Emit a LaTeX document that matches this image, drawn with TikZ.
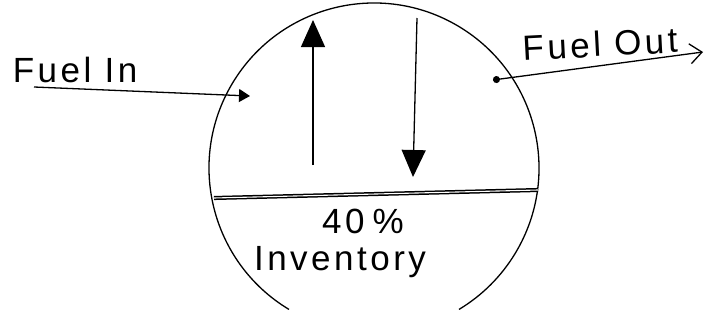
\documentclass[tikz,border=0pt]{standalone}
\usepackage{fontspec}
\setmainfont{Liberation Sans}
\newfontfamily\handfont[LetterSpace=10]{Liberation Sans}
\usetikzlibrary{arrows.meta,positioning}

\begin{document}
\begin{tikzpicture}[x=1pt,y=-1pt,
    pen/.style={line width=1.3pt,black},
    hand/.style={inner sep=0pt,font=\handfont\fontsize{35}{35}\selectfont},
    bighead/.style={-{Triangle[length=27pt,width=24pt]}},
    smallhead/.style={-{Triangle[length=11pt,width=13pt]}},
    openhead/.style={{Circle[length=7pt]}-{Straight Barb[length=12pt,width=20pt]}}
  ]
  \useasboundingbox (0,0) rectangle (718,322);

  % tank outline, open at the bottom
  \coordinate (tank) at (374,168);
  \draw[pen] (tank) ++(121:165) arc[start angle=121,end angle=419,radius=165];

  % fuel level
  \coordinate (lvlL) at (214,198);
  \coordinate (lvlR) at (538,190);
  \draw[pen,line width=1.5pt,double,double distance=1.1pt] (lvlL) -- (lvlR);

  % flows inside the tank
  \coordinate (upbot) at (313,165);
  \coordinate (uptop) at (313,20);
  \draw[pen,bighead] (upbot) -- (uptop);
  \coordinate (dntop) at (417,18);
  \coordinate (dnbot) at (413,177);
  \draw[pen,bighead] (dntop) -- (dnbot);

  % fuel in
  \node[hand] (fuelin) at (75,70) {Fuel In};
  \coordinate (instart) at (34,87);
  \coordinate (inend) at (250,96);
  \draw[pen,smallhead] (instart) -- (inend);

  % fuel out
  \node[hand,rotate=3] (fuelout) at (600,44) {Fuel Out};
  \coordinate (outstart) at (493,80);
  \coordinate (outend) at (703,52);
  \draw[pen,openhead] (outstart) -- (outend);

  % inventory
  \node[hand] (pct) at (363,221) {40\hspace{8pt}\%};
  \node[hand] (inv) at (340,262) {Inventory};
\end{tikzpicture}
\end{document}
